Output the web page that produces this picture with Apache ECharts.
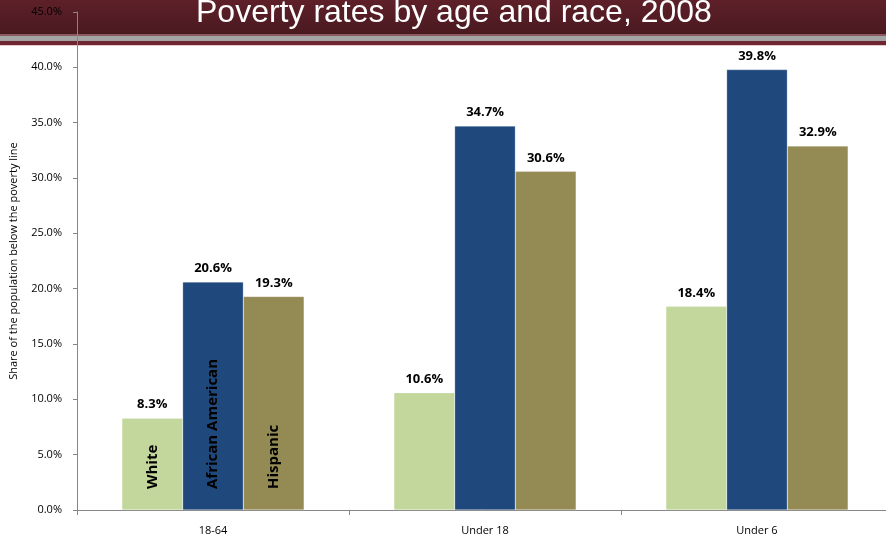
<!DOCTYPE html>
<html>
<head>
<meta charset="utf-8">
<style>
  html, body { margin: 0; padding: 0; background: #fff; }
  #main { width: 886px; height: 539px; }
</style>
<script src="https://cdn.jsdelivr.net/npm/echarts@6/dist/echarts.min.js"></script>
</head>
<body>
<div id="main"></div>
<script>
  var categories = ['18-64', 'Under 18', 'Under 6'];
  var white = [8.3, 10.6, 18.4];
  var africanAmerican = [20.6, 34.7, 39.8];
  var hispanic = [19.3, 30.6, 32.9];
  var seriesNames = ['White', 'African American', 'Hispanic'];
  var colors = ['#C3D69B', '#1F497D', '#948A54'];

  var chart = echarts.init(document.getElementById('main'));

  function makeSeries(name, values, color) {
    return {
      name: name,
      type: 'bar',
      data: values,
      barGap: '0%',
      barCategoryGap: '33%',
      itemStyle: { color: color, borderColor: 'rgba(255,255,255,0.5)', borderWidth: 0.5 },
      label: {
        show: true,
        position: 'top',
        distance: 7,
        formatter: function (p) { return p.value.toFixed(1) + '%'; },
        fontFamily: 'Open Sans',
        fontWeight: 'bold',
        fontSize: 13,
        color: '#000'
      },
      // series name written up the first bar of each series
      markPoint: {
        symbol: 'circle',
        symbolSize: 0,
        silent: true,
        data: [{ coord: [0, 0] }],
        label: {
          show: true,
          formatter: name,
          position: 'inside',
          rotate: 90,
          align: 'left',
          verticalAlign: 'middle',
          offset: [21, 0],
          fontFamily: 'Open Sans',
          fontWeight: 'bold',
          fontSize: 15,
          color: '#000'
        }
      }
    };
  }

  chart.setOption({
    animation: false,
    title: {
      text: 'Poverty rates by age and race, 2008',
      left: 191,
      top: -8,
      textStyle: {
        color: '#fff',
        fontFamily: 'Liberation Sans, Arial',
        fontWeight: 'normal',
        fontSize: 32
      }
    },
    graphic: [
      {
        type: 'rect', z: -10, left: 0, top: 0,
        shape: { width: 886, height: 34 },
        style: {
          fill: new echarts.graphic.LinearGradient(0, 0, 0, 1, [
            { offset: 0, color: '#5e2029' },
            { offset: 1, color: '#4a1920' }
          ])
        }
      },
      { type: 'rect', z: -10, left: 0, top: 34, shape: { width: 886, height: 2 }, style: { fill: '#8a5a60' } },
      { type: 'rect', z: -10, left: 0, top: 36, shape: { width: 886, height: 5 }, style: { fill: '#a4a4a4' } },
      { type: 'rect', z: -10, left: 0, top: 41, shape: { width: 886, height: 4 }, style: { fill: '#6e2633' } },
      { type: 'rect', z: -10, left: 0, top: 45, shape: { width: 886, height: 1 }, style: { fill: '#e8c8cc' } }
    ],
    grid: { left: 77, right: -7, top: 12, bottom: 29, outerBoundsMode: 'none', containLabel: false },
    xAxis: {
      type: 'category',
      data: categories,
      axisLine: { lineStyle: { color: '#868686', width: 1 } },
      axisTick: { show: true, alignWithLabel: false, length: 5, lineStyle: { color: '#868686' } },
      axisLabel: { color: '#000', fontFamily: 'Open Sans', fontSize: 11, margin: 15 }
    },
    yAxis: {
      type: 'value',
      min: 0,
      max: 45,
      interval: 5,
      name: 'Share of the population below the poverty line',
      nameLocation: 'middle',
      nameGap: 58,
      nameTextStyle: { color: '#000', fontFamily: 'Open Sans', fontSize: 11 },
      axisLine: { show: true, lineStyle: { color: '#868686', width: 1 } },
      axisTick: { show: true, length: 4, lineStyle: { color: '#868686' } },
      splitLine: { show: false },
      axisLabel: {
        color: '#000',
        fontFamily: 'Open Sans',
        fontSize: 11,
        margin: 15,
        formatter: function (v) { return v.toFixed(1) + '%'; }
      }
    },
    series: [
      makeSeries(seriesNames[0], white, colors[0]),
      makeSeries(seriesNames[1], africanAmerican, colors[1]),
      makeSeries(seriesNames[2], hispanic, colors[2])
    ]
  });
</script>
</body>
</html>
